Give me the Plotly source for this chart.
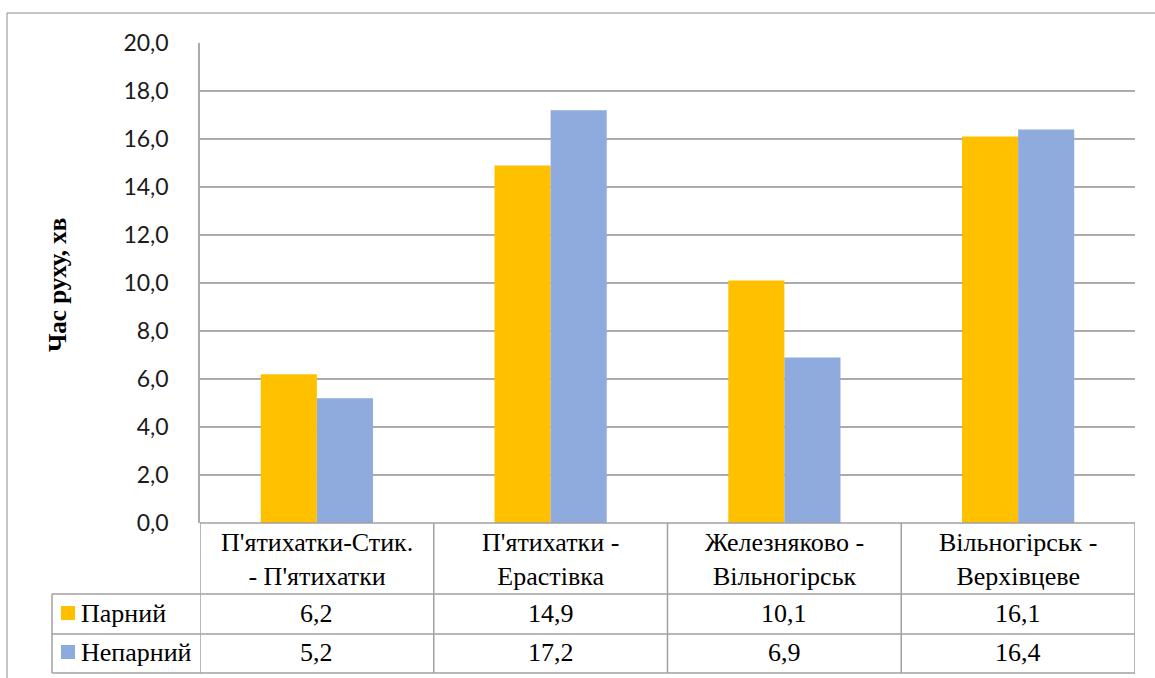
import plotly.graph_objects as go

categories = ["П'ятихатки-Стик.<br>- П'ятихатки", "П'ятихатки -<br>Ерастівка",
              "Железняково -<br>Вільногірськ", "Вільногірськ -<br>Верхівцеве"]
series_names = ["Парний", "Непарний"]
parnyi = [6.2, 14.9, 10.1, 16.1]
neparnyi = [5.2, 17.2, 6.9, 16.4]
series_values = [parnyi, neparnyi]
colors = ["#FFC000", "#8FAADC"]
y_ticks = [0, 2, 4, 6, 8, 10, 12, 14, 16, 18, 20]
y_title = "Час руху, хв"

W, H = 1155, 678
L, R, T, B = 200, 20, 43, 155
pw, ph = W - L - R, H - T - B

def px_x(p):
    return (p - L) / pw

def px_y(p):
    return (H - B - p) / ph

fig = go.Figure()
xs = list(range(len(categories)))
for name, vals, col in zip(series_names, series_values, colors):
    fig.add_trace(go.Bar(x=xs, y=vals, name=name, marker=dict(color=col, line=dict(width=0))))

line_col = "#A0A0A0"
shapes = []
shapes.append(dict(type="rect", xref="paper", yref="paper", x0=px_x(7), x1=px_x(1160),
                   y0=px_y(690), y1=px_y(13), line=dict(color="#8C8C8C", width=1)))
row_tops = [523, 594, 634, 673]
for i, yy in enumerate(row_tops):
    x0 = px_x(200) if i == 0 else px_x(52)
    shapes.append(dict(type="line", xref="paper", yref="paper", x0=x0, x1=1,
                       y0=px_y(yy), y1=px_y(yy), line=dict(color=line_col, width=1.5)))
shapes.append(dict(type="line", xref="paper", yref="paper", x0=px_x(52), x1=px_x(52),
                   y0=px_y(594), y1=px_y(673), line=dict(color=line_col, width=1.5)))
for k in range(len(categories) + 1):
    shapes.append(dict(type="line", xref="x", yref="paper", x0=k - 0.5, x1=k - 0.5,
                       y0=px_y(523), y1=px_y(673), line=dict(color=line_col, width=1.5)))
key_centers = [613, 652]
for col, yc in zip(colors, key_centers):
    shapes.append(dict(type="rect", xref="paper", yref="paper", x0=px_x(61), x1=px_x(75),
                       y0=px_y(yc + 7), y1=px_y(yc - 7), fillcolor=col, line=dict(width=0)))

SERIF = "Liberation Serif"
FS = 26
annotations = []
for i, c in enumerate(categories):
    annotations.append(dict(x=i, y=px_y(559), xref="x", yref="paper", text=c, showarrow=False,
                            font=dict(family=SERIF, size=FS, color="#000000"),
                            align="center", xanchor="center", yanchor="middle"))
for name, vals, yc in zip(series_names, series_values, key_centers):
    annotations.append(dict(x=px_x(79), y=px_y(yc), xref="paper", yref="paper", text=name,
                            showarrow=False, font=dict(family=SERIF, size=FS, color="#000000"),
                            xanchor="left", yanchor="middle"))
    for i, v in enumerate(vals):
        annotations.append(dict(x=i, y=px_y(yc), xref="x", yref="paper",
                                text=f"{v:.1f}".replace(".", ","), showarrow=False,
                                font=dict(family=SERIF, size=FS, color="#000000"),
                                xanchor="center", yanchor="middle"))
annotations.append(dict(x=px_x(57), y=px_y(285), xref="paper", yref="paper", text=f"<b>{y_title}</b>",
                        textangle=-90, showarrow=False,
                        font=dict(family=SERIF, size=25, color="#000000"),
                        xanchor="center", yanchor="middle"))

fig.update_layout(
    width=W, height=H, margin=dict(l=L, r=R, t=T, b=B),
    paper_bgcolor="white", plot_bgcolor="white",
    font=dict(family=SERIF, size=FS, color="#000000"),
    barmode="group", bargap=0.52, bargroupgap=0,
    showlegend=False, separators=", ",
    shapes=shapes, annotations=annotations,
    xaxis=dict(range=[-0.5, len(categories) - 0.5], showticklabels=False, showgrid=False,
               zeroline=False, showline=False, ticks=""),
    yaxis=dict(range=[0, 20], tickvals=y_ticks, tickformat=".1f", showgrid=True,
               gridcolor="#ABABAB", gridwidth=1.5, zeroline=False, showline=True,
               linecolor="#ABABAB", linewidth=1.5, ticks="", ticklabelstandoff=25,
               tickfont=dict(family="Lato", size=23, color="#1a1a1a")),
)

fig.write_html("out.html")
